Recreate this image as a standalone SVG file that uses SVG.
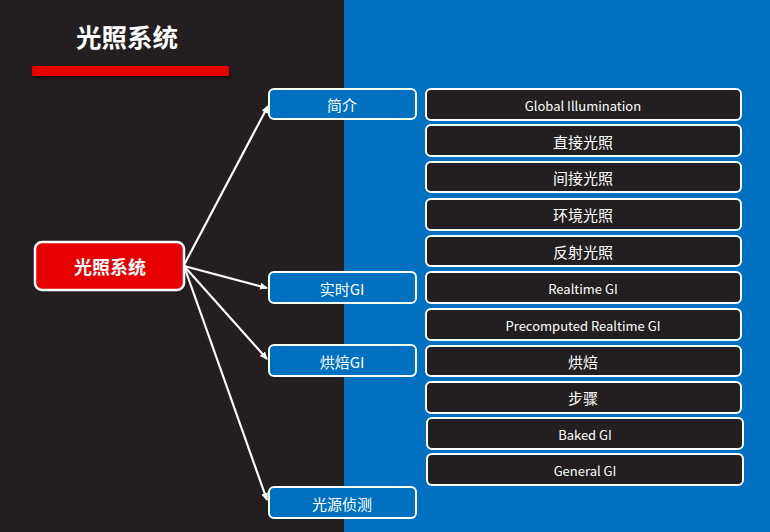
<svg xmlns="http://www.w3.org/2000/svg" width="770" height="532" viewBox="0 0 770 532">
<defs>
<marker id="ah" markerWidth="8" markerHeight="8" refX="7" refY="4" orient="auto" markerUnits="userSpaceOnUse">
<path d="M0,0.5 L8,4 L0,7.5 Z" fill="#ffffff"/>
</marker>
<filter id="sh" x="-10%" y="-50%" width="120%" height="200%">
<feDropShadow dx="1" dy="2" stdDeviation="1.5" flood-color="#000" flood-opacity="0.6"/>
</filter>
</defs>
<style>
text{font-family:"Noto Sans CJK SC","Noto Sans","Liberation Sans",sans-serif;fill:#ffffff;text-anchor:middle;dominant-baseline:central}
.br rect{fill:#0070c0;stroke:#ffffff;stroke-width:2}
.lf rect{fill:#231f20;stroke:#ffffff;stroke-width:2}
.br text{font-size:15px}
.lf text{font-size:13px}
.lf text.cj{font-size:15px}
.cn line{stroke:#ffffff;stroke-width:2.2;marker-end:url(#ah)}
</style>
<rect x="0" y="0" width="344" height="532" fill="#231f20"/>
<rect x="344" y="0" width="426" height="532" fill="#0070c0"/>
<g id="title">
<text x="127" y="35" style="font-size:25.5px;font-weight:bold">光照系统</text>
<rect x="32" y="66" width="197" height="10" rx="1.5" fill="#e80000" filter="url(#sh)"/>
</g>
<g class="cn" id="connectors">
<line x1="184" y1="265" x2="268" y2="106"/>
<line x1="184" y1="266" x2="267" y2="288"/>
<line x1="184" y1="266" x2="267" y2="359"/>
<line x1="184" y1="266" x2="267" y2="500"/>
</g>
<g id="root">
<rect x="35" y="242" width="149" height="48" rx="7" fill="#e80000" stroke="#ffffff" stroke-width="2.5"/>
<text x="110" y="266" style="font-size:18px;font-weight:bold">光照系统</text>
</g>
<g class="br" id="b-intro"><rect x="269" y="89" width="147" height="30" rx="5"/><text x="342" y="104">简介</text></g>
<g class="br" id="b-realtime"><rect x="269" y="272" width="147" height="31" rx="5"/><text x="342" y="288">实时GI</text></g>
<g class="br" id="b-baked"><rect x="269" y="345" width="147" height="31" rx="5"/><text x="342" y="361">烘焙GI</text></g>
<g class="br" id="b-probe"><rect x="269" y="487" width="147" height="31" rx="5"/><text x="342" y="503">光源侦测</text></g>
<g class="lf" id="l-gi"><rect x="426" y="89" width="315" height="31" rx="5"/><text x="583" y="105">Global Illumination</text></g>
<g class="lf" id="l-direct"><rect x="426" y="125" width="315" height="31" rx="5"/><text class="cj" x="583" y="141">直接光照</text></g>
<g class="lf" id="l-indirect"><rect x="426" y="162" width="315" height="30" rx="5"/><text class="cj" x="583" y="177">间接光照</text></g>
<g class="lf" id="l-ambient"><rect x="426" y="199" width="315" height="31" rx="5"/><text class="cj" x="583" y="214">环境光照</text></g>
<g class="lf" id="l-reflect"><rect x="426" y="236" width="315" height="30" rx="5"/><text class="cj" x="583" y="251">反射光照</text></g>
<g class="lf" id="l-rt"><rect x="426" y="272" width="315" height="31" rx="5"/><text x="583" y="288">Realtime GI</text></g>
<g class="lf" id="l-prt"><rect x="426" y="309" width="315" height="31" rx="5"/><text x="583" y="325">Precomputed Realtime GI</text></g>
<g class="lf" id="l-bake"><rect x="426" y="346" width="315" height="30" rx="5"/><text class="cj" x="583" y="361">烘焙</text></g>
<g class="lf" id="l-steps"><rect x="426" y="382" width="315" height="31" rx="5"/><text class="cj" x="583" y="397">步骤</text></g>
<g class="lf" id="l-bakedgi"><rect x="427" y="418" width="316" height="31" rx="5"/><text x="585" y="434">Baked GI</text></g>
<g class="lf" id="l-general"><rect x="427" y="454" width="316" height="31" rx="5"/><text x="585" y="470">General GI</text></g>
</svg>
